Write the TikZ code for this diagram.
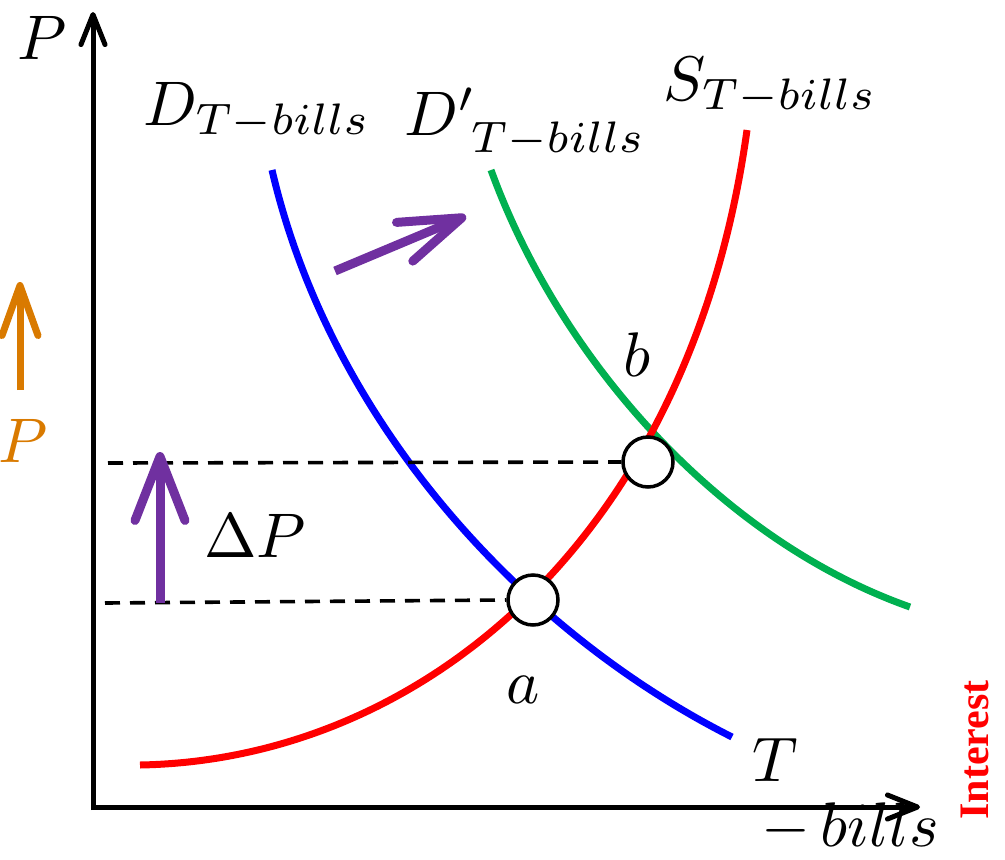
\documentclass[tikz,border=0pt]{standalone}
\usepackage{fontspec}
\newfontfamily\intfont{Liberation Serif}
\usetikzlibrary{arrows.meta}
\definecolor{cblue}{RGB}{0,0,255}
\definecolor{cred}{RGB}{255,0,0}
\definecolor{cgreen}{RGB}{0,176,80}
\definecolor{cpurple}{RGB}{112,48,160}
\definecolor{corange}{RGB}{217,122,0}
\tikzset{
  axisline/.style={line width=5pt,-{Straight Barb[round,length=30pt,width=24pt,line width=5pt]}},
  curveline/.style={line width=7pt},
  guide/.style={line width=3.6pt,dash pattern=on 15pt off 10pt},
  eq/.style={circle,draw,line width=3.5pt,fill=white,minimum width=44pt,minimum height=50pt,inner sep=0pt},
  big/.style={scale=6.3,inner sep=0pt},
  shiftarrow/.style={line width=9pt,-{Straight Barb[round,length=64pt,width=50pt,line width=9pt]}},
}
\begin{document}
\begin{tikzpicture}[x=1pt,y=-1pt]
\useasboundingbox (0,0) rectangle (1005,860);
% axes
\coordinate (O) at (93,808);
\coordinate (Ytop) at (93,12);
\coordinate (Xend) at (920,807);
\draw[axisline] (93,810) -- (Ytop);
\draw[axisline] (91,807) -- (Xend);
% curves
\draw[curveline,cblue] (272,170) .. controls (330,420) and (520,630) .. (732,737);
\draw[curveline,cgreen] (491,170) .. controls (560,360) and (720,540) .. (910,607);
\draw[curveline,cred] (140,765) .. controls (420,760) and (690,540) .. (747,130);
% equilibrium points
\node[eq] (a) at (533,600) {};
\node[eq] (b) at (648,462) {};
\coordinate (la) at (105,603);
\coordinate (lb) at (108,463);
\draw[guide] (la) -- (a.west);
\draw[guide] (lb) -- (b.west);
% shift arrows
\coordinate (dp0) at (160,603);
\coordinate (dp1) at (160,452);
\draw[shiftarrow,cpurple] (dp0) -- (dp1);
\coordinate (sh0) at (335,271);
\coordinate (sh1) at (466,216);
\draw[cpurple,line width=9pt,-{Straight Barb[round,length=62pt,width=42pt,line width=9pt]}] (sh0) -- (sh1);
\coordinate (op0) at (20,390);
\coordinate (op1) at (20,282);
\draw[corange,line width=7pt,-{Straight Barb[round,length=50pt,width=36pt,line width=7pt]}] (op0) -- (op1);
% labels
\node[big] (lP) at (42,38) {$P$};
\node[big,corange] (lPo) at (23,441) {$P$};
\node[big,anchor=base west] (lD) at (142,125) {$D_{T-bills}$};
\node[big,anchor=base west] (lDp) at (403,135) {$D'_{\;T-bills}$};
\node[big,anchor=base west] (lS) at (662,100) {$S_{T-bills}$};
\node[big] (ldP) at (255,536) {$\Delta P$};
\node[big] (lbl) at (637,355) {$b$};
\node[big] (lal) at (523,690) {$a$};
\node[big] (lT) at (775,760) {$T$};
\node[big,anchor=base west] (lbills) at (760,846) {$-\,bills$};
\node[scale=4.2,inner sep=0pt,rotate=90,text=cred,font=\intfont\bfseries] (lint) at (975,750) {Interest};
\end{tikzpicture}
\end{document}
